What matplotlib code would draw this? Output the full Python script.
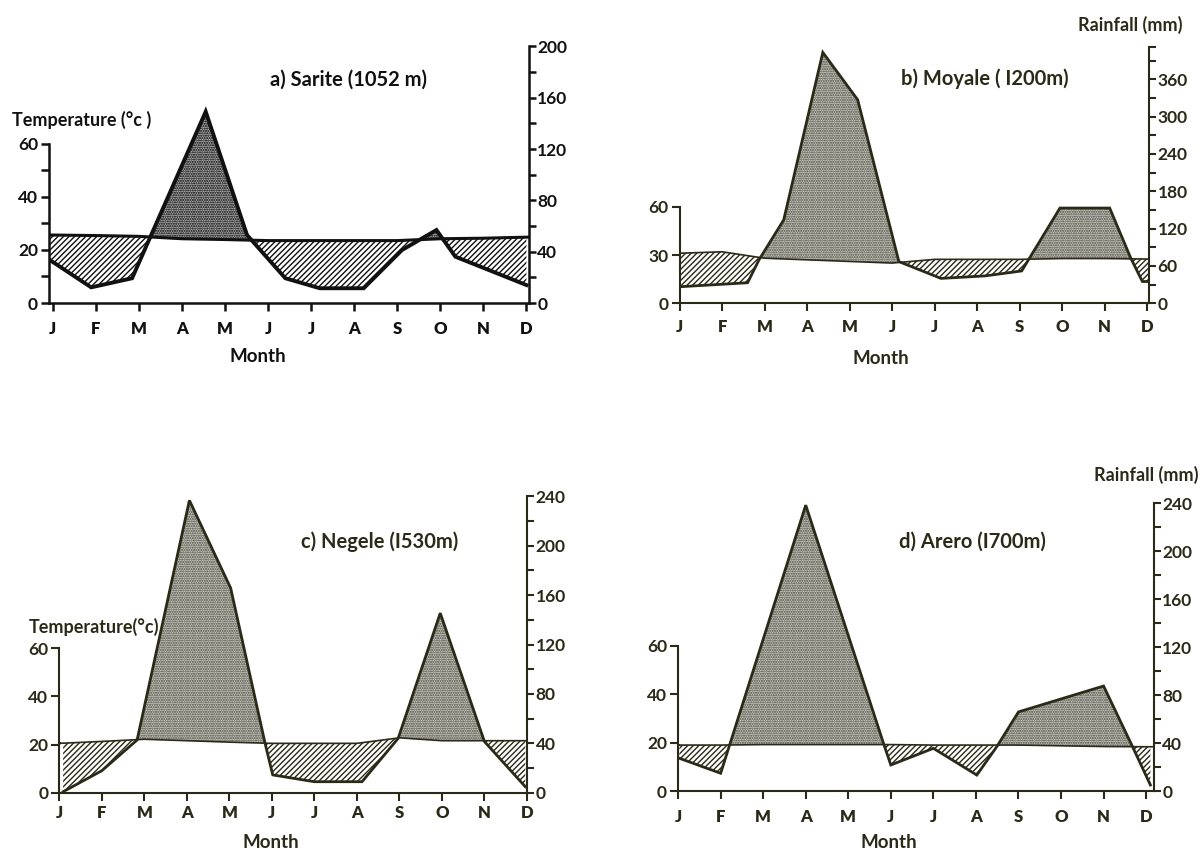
import numpy as np
import matplotlib.pyplot as plt

plt.rcParams['font.family'] = ['Lato', 'DejaVu Sans']
plt.rcParams['hatch.linewidth'] = 1.0

months = ['J', 'F', 'M', 'A', 'M', 'J', 'J', 'A', 'S', 'O', 'N', 'D']
month_pos = np.arange(12)

# a) Sarite: monthly temperature (deg C), rainfall vertices (month position, mm)
sarite_temp = [25.6, 25.4, 25.1, 24.2, 23.9, 23.5, 23.5, 23.5, 23.5, 24.2, 24.4, 24.8]
sarite_rain_x = [-0.07, 0.89, 1.84, 3.55, 4.51, 5.40, 6.20, 7.22, 8.11, 8.91, 9.35, 11.0]
sarite_rain = [33.5, 12.2, 19.3, 149.2, 53.0, 19.3, 11.5, 11.5, 41.3, 56.9, 36.1, 14.0]

# b) Moyale
moyale_temp = [31.1, 32.0, 28.0, 27.0, 26.0, 25.0, 27.3, 27.3, 27.3, 27.8, 27.8, 27.5]
moyale_rain_x = [0.03, 1.60, 1.87, 2.45, 3.37, 4.19, 5.16, 6.15, 7.19, 8.05, 8.95, 10.12, 10.62, 10.89, 11.05]
moyale_rain = [26.7, 33.0, 70.0, 134.0, 403.0, 327.0, 67.0, 40.0, 44.0, 52.0, 153.0, 153.0, 72.0, 35.0, 35.0]

# c) Negele
negele_temp = [20.5, 21.3, 22.2, 21.6, 21.0, 20.5, 20.5, 20.5, 22.8, 21.6, 21.6, 21.6]
negele_rain_x = [0.09, 1.0, 1.83, 3.06, 4.03, 4.84, 5.02, 6.0, 7.12, 7.97, 8.96, 10.0, 10.96]
negele_rain = [0.8, 17.8, 42.7, 236.8, 165.8, 40.0, 14.4, 8.9, 8.9, 44.0, 145.5, 41.4, 4.9]

# d) Arero
arero_temp = [19.0, 19.0, 19.2, 19.2, 19.2, 19.2, 19.0, 19.0, 19.0, 18.7, 18.4, 18.3]
arero_rain_x = [0.03, 1.0, 3.0, 4.84, 5.0, 6.0, 7.02, 7.49, 8.0, 10.0, 10.68, 11.1]
arero_rain = [27.3, 14.8, 238.5, 38.4, 21.7, 35.6, 13.3, 37.0, 66.0, 87.6, 37.0, 5.0]

W, H = 1203, 851
fig = plt.figure(figsize=(W / 100, H / 100), dpi=100)


def fx(x):
    return x / W


def fy(y):
    return 1 - y / H


panels = [
    dict(temp=sarite_temp, rx=sarite_rain_x, rain=sarite_rain,
         px=(49, 529, 303, 42.8), xlim=(-0.09, 11.06), ytop=98, ratio=2.07,
         lticks=[0, 20, 40, 60], lminor=[10, 30, 50],
         rticks=[0, 40, 80, 120, 160, 200], rminor=list(range(20, 200, 40)), rtop=200,
         col='#111111', stip_face='#a9a9a9', stip_hatch='#000000',
         lw_rain=2.8, lw_temp=2.2, lw_spine=1.8, xpad=7,
         title='a) Sarite (1052 m)', tpos=(348, 80), mpos=(258, 357),
         templab=('Temperature (°c )', 12, 120), rainlab=None),
    dict(temp=moyale_temp, rx=moyale_rain_x, rain=moyale_rain,
         px=(679.6, 1149.2, 303.3, 42.5), xlim=(0.02, 11.05), ytop=162, ratio=2.586,
         lticks=[0, 30, 60], lminor=[],
         rticks=[0, 60, 120, 180, 240, 300, 360], rminor=[30, 90, 150, 210, 270, 330, 390, 412],
         rtop=412,
         col='#2b2a18', stip_face='#c4c4be', stip_hatch='#4a4a3c',
         lw_rain=2.0, lw_temp=1.2, lw_spine=1.5, xpad=5,
         title='b) Moyale ( I200m)', tpos=(985, 79), mpos=(881, 358),
         templab=None, rainlab=('Rainfall (mm)', 1182, 25)),
    dict(temp=negele_temp, rx=negele_rain_x, rain=negele_rain,
         px=(59.3, 527.4, 792.7, 494.2), xlim=(0.04, 11.01), ytop=124, ratio=1.95,
         lticks=[0, 20, 40, 60], lminor=[],
         rticks=[0, 40, 80, 120, 160, 200, 240], rminor=list(range(20, 240, 40)), rtop=240,
         col='#2b2a18', stip_face='#c4c4be', stip_hatch='#4a4a3c',
         lw_rain=2.0, lw_temp=1.2, lw_spine=1.5, xpad=3,
         title='c) Negele (I530m)', tpos=(380, 542), mpos=(271, 843),
         templab=('Temperature(°c)', 29, 627), rainlab=None),
    dict(temp=arero_temp, rx=arero_rain_x, rain=arero_rain,
         px=(678.1, 1153.8, 791, 498.5), xlim=(0.03, 11.18), ytop=121, ratio=2.017,
         lticks=[0, 20, 40, 60], lminor=[],
         rticks=[0, 40, 80, 120, 160, 200, 240], rminor=list(range(20, 240, 40)), rtop=240,
         col='#2b2a18', stip_face='#c4c4be', stip_hatch='#4a4a3c',
         lw_rain=2.0, lw_temp=1.2, lw_spine=1.5, xpad=7,
         title='d) Arero (I700m)', tpos=(972, 542), mpos=(889, 843),
         templab=None, rainlab=('Rainfall (mm)', 1198, 475)),
]

for p in panels:
    left, right, bottom, top = p['px']
    ax = fig.add_axes([fx(left), fy(bottom), (right - left) / W, (bottom - top) / H])
    ax.set_xlim(*p['xlim'])
    ax.set_ylim(0, p['ytop'])
    col = p['col']

    x0, x1 = p['xlim']
    tx = np.r_[x0, month_pos, x1]
    ty = np.r_[p['temp'][0], p['temp'], p['temp'][-1]]
    rx = np.asarray(p['rx'])
    ry = np.asarray(p['rain']) / p['ratio']

    # common grid for filling between the two curves
    lo, hi = max(tx[0], rx[0]), min(tx[-1], rx[-1])
    xs = np.union1d(tx, rx)
    xs = xs[(xs >= lo) & (xs <= hi)]
    t_i = np.interp(xs, tx, ty)
    r_i = np.interp(xs, rx, ry)
    ax.fill_between(xs, t_i, r_i, where=r_i >= t_i, interpolate=True,
                    facecolor=p['stip_face'], edgecolor=p['stip_hatch'],
                    hatch='.......', linewidth=0, zorder=1)
    ax.fill_between(xs, t_i, r_i, where=r_i <= t_i, interpolate=True,
                    facecolor='white', edgecolor=col, hatch='//////',
                    linewidth=0, zorder=1)

    ax.plot(tx, ty, color=col, lw=p['lw_temp'], zorder=3, solid_capstyle='butt')
    ax.plot(rx, ry, color=col, lw=p['lw_rain'], zorder=4, solid_joinstyle='miter')

    for s in ['top', 'right']:
        ax.spines[s].set_visible(False)
    for s in ['left', 'bottom']:
        ax.spines[s].set_color(col)
        ax.spines[s].set_linewidth(p['lw_spine'])
    ax.spines['left'].set_bounds(0, 60)

    ax.set_xticks(month_pos)
    ax.set_xticklabels(months, fontsize=12, fontweight='heavy', color=col)
    ax.tick_params(axis='x', direction='out', length=6, width=p['lw_spine'],
                   color=col, pad=p['xpad'])
    ax.set_yticks(p['lticks'])
    ax.set_yticklabels([str(v) for v in p['lticks']], fontsize=12.5,
                       fontweight='bold', color=col)
    ax.set_yticks(p['lminor'], minor=True)
    ax.tick_params(axis='y', which='both', direction='out', length=6,
                   width=p['lw_spine'], color=col, pad=2)

    ax2 = ax.twinx()
    ax2.set_ylim(0, p['ytop'] * p['ratio'])
    for s in ['top', 'left', 'bottom']:
        ax2.spines[s].set_visible(False)
    ax2.spines['right'].set_color(col)
    ax2.spines['right'].set_linewidth(p['lw_spine'])
    ax2.spines['right'].set_bounds(0, p['rtop'])
    ax2.set_yticks(p['rticks'])
    ax2.set_yticklabels([str(v) for v in p['rticks']], fontsize=12.5,
                        fontweight='bold', color=col)
    ax2.set_yticks(p['rminor'], minor=True)
    ax2.tick_params(axis='y', which='both', direction='out', length=5,
                    width=p['lw_spine'], color=col, pad=1)

    fig.text(fx(p['tpos'][0]), fy(p['tpos'][1]), p['title'], fontsize=14.5,
             fontweight='bold', color=col, ha='center', va='center')
    fig.text(fx(p['mpos'][0]), fy(p['mpos'][1]), 'Month', fontsize=13.5,
             fontweight='bold', color=col, ha='center', va='center')
    if p['templab']:
        s, x, y = p['templab']
        fig.text(fx(x), fy(y), s, fontsize=13, fontweight='bold', color=col,
                 ha='left', va='center')
    if p['rainlab']:
        s, x, y = p['rainlab']
        fig.text(fx(x), fy(y), s, fontsize=13, fontweight='bold', color=col,
                 ha='right', va='center')

fig.savefig('out.png', dpi=100, facecolor='white')
